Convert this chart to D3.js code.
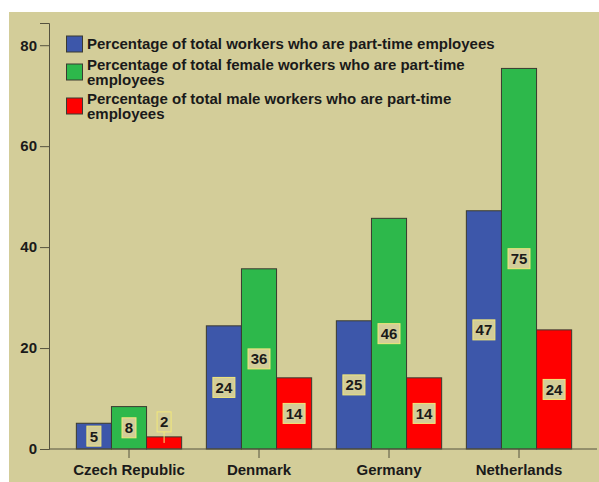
<!DOCTYPE html>
<html>
<head>
<meta charset="utf-8">
<script src="https://cdn.jsdelivr.net/npm/d3@7"></script>
<style>
	body { margin: 0; background: #ffffff; }
	svg text { font-family: 'Liberation Sans', Arial, sans-serif; font-weight: bold; fill: #1a1a1a; }
</style>
</head>
<body>
<svg width="599" height="482"></svg>
<script>
var countries = ['Czech Republic', 'Denmark', 'Germany', 'Netherlands'];
var seriesNames = ['total', 'female', 'male'];
var legendLines = [
	['Percentage of total workers who are part-time employees'],
	['Percentage of total female workers who are part-time', 'employees'],
	['Percentage of total male workers who are part-time', 'employees']
];
var totalValues = [5.1, 24.4, 25.4, 47.2];
var femaleValues = [8.4, 35.7, 45.7, 75.4];
var maleValues = [2.4, 14.1, 14.1, 23.6];
var yTicks = [0, 20, 40, 60, 80];
var colors = ['#3d57aa', '#2db84b', '#ff0000'];

function main() {
	var svg = d3.select('svg');

	// beige panel
	svg.append('rect')
		.attr('x', 9).attr('y', 12)
		.attr('width', 590).attr('height', 470)
		.attr('fill', '#d3cd99');

	var x = d3.scaleBand().domain(countries).range([64, 584]).paddingInner(0.19).paddingOuter(0.095);
	var xs = d3.scaleBand().domain(seriesNames).range([0, x.bandwidth()]);
	var y = d3.scaleLinear().domain([0, 84.4]).range([449, 23]);

	var rows = countries.map(function(c, i) {
		return {country: c, values: [totalValues[i], femaleValues[i], maleValues[i]]};
	});

	// bars
	var group = svg.selectAll('.grp')
		.data(rows)
		.enter().append('g')
		.attr('class', 'grp')
		.attr('transform', function(d) { return 'translate(' + x(d.country) + ',0)'; });

	group.selectAll('rect')
		.data(function(d) { return d.values.map(function(v, j) { return {s: seriesNames[j], v: v, j: j}; }); })
		.enter().append('rect')
		.attr('x', function(d) { return xs(d.s); })
		.attr('y', function(d) { return y(d.v); })
		.attr('width', xs.bandwidth())
		.attr('height', function(d) { return y(0) - y(d.v); })
		.attr('fill', function(d) { return colors[d.j]; })
		.attr('stroke', '#3a3a30')
		.attr('stroke-width', 1);

	// value labels (short bars get the label above with a leader line)
	var lab = group.selectAll('.lab')
		.data(function(d) { return d.values.map(function(v, j) { return {s: seriesNames[j], v: v, j: j}; }); })
		.enter().append('g')
		.attr('class', 'lab')
		.attr('transform', function(d) {
			var cy = (y(d.v) + y(0)) / 2;
			if (y(0) - y(d.v) < 20) cy = y(d.v) - 15;
			return 'translate(' + (xs(d.s) + xs.bandwidth() / 2) + ',' + cy + ')';
		});

	lab.filter(function(d) { return y(0) - y(d.v) < 20; })
		.append('line')
		.attr('x1', 0).attr('x2', 0)
		.attr('y1', 10)
		.attr('y2', function(d) { return (y(0) - y(d.v)) / 2 + 15; })
		.attr('stroke', '#f2e87a').attr('stroke-width', 1);

	lab.append('rect')
		.attr('x', function(d) { return Math.round(d.v) >= 10 ? -11 : -7; })
		.attr('y', -10)
		.attr('width', function(d) { return Math.round(d.v) >= 10 ? 22 : 14; })
		.attr('height', 20)
		.attr('fill', '#d3cd99')
		.attr('stroke', '#f2e87a');

	lab.append('text')
		.attr('text-anchor', 'middle')
		.attr('dy', '0.36em')
		.style('font-size', '15px')
		.text(function(d) { return Math.round(d.v); });

	// axes
	svg.append('line')
		.attr('x1', 49).attr('x2', 597)
		.attr('y1', y(0)).attr('y2', y(0))
		.attr('stroke', '#55523f');

	var yAxis = svg.append('g')
		.attr('transform', 'translate(49,0)')
		.call(d3.axisLeft(y).tickValues(yTicks).tickSize(9).tickPadding(3));
	yAxis.select('.domain').attr('stroke', '#55523f');
	yAxis.selectAll('.tick line').attr('stroke', '#55523f');
	yAxis.selectAll('.tick text').style('font-size', '15px').attr('fill', '#1a1a1a');

	var xAxis = svg.append('g')
		.attr('transform', 'translate(0,' + y(0) + ')')
		.call(d3.axisBottom(x).tickSize(9).tickPadding(6));
	xAxis.select('.domain').remove();
	xAxis.selectAll('.tick line').attr('stroke', '#55523f');
	xAxis.selectAll('.tick text').style('font-size', '15px').attr('fill', '#1a1a1a');

	// legend
	var legendY = [44, 72, 106];
	var leg = svg.selectAll('.leg')
		.data(legendLines)
		.enter().append('g')
		.attr('class', 'leg')
		.attr('transform', function(d, i) { return 'translate(66,' + legendY[i] + ')'; });
	leg.append('rect')
		.attr('x', 0.5).attr('y', -8)
		.attr('width', 16).attr('height', 16)
		.attr('fill', function(d, i) { return colors[i]; })
		.attr('stroke', '#3a3a30');
	leg.selectAll('text')
		.data(function(d) { return d; })
		.enter().append('text')
		.attr('x', 21)
		.attr('y', function(d, k, nodes) { return nodes.length > 1 ? k * 15 - 7.5 : 0; })
		.attr('dy', '0.36em')
		.style('font-size', '15px')
		.text(function(d) { return d; });
}
main();
</script>
</body>
</html>
